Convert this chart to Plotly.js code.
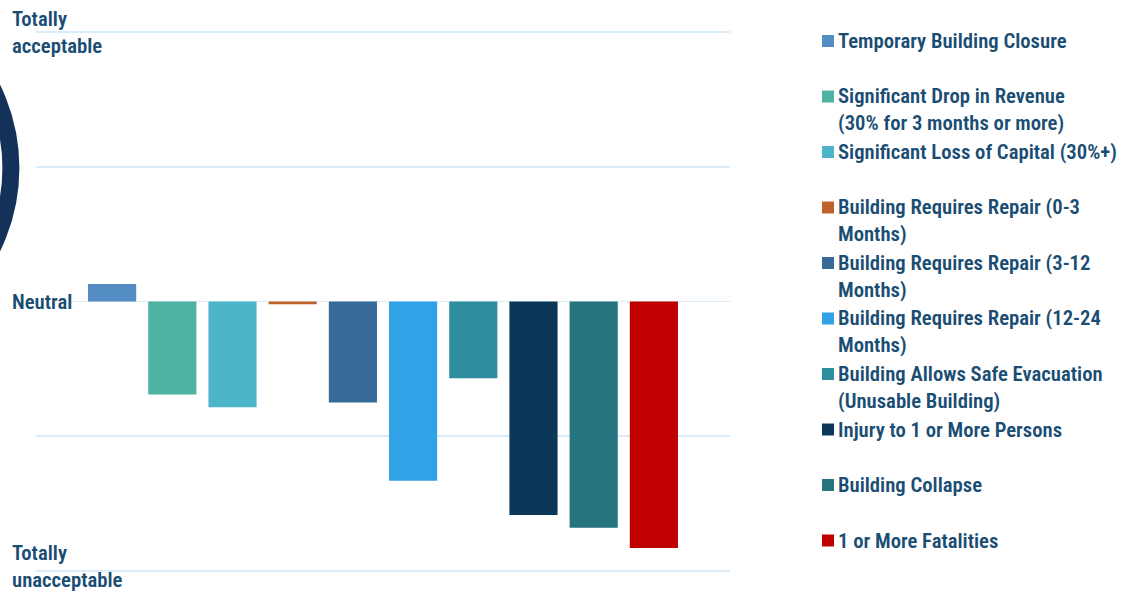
<!DOCTYPE html>
<html>
<head>
<meta charset="utf-8">
<script src="https://cdn.plot.ly/plotly-3.0.1.min.js"></script>
<style>html,body{margin:0;padding:0;background:#fff;}#chart{width:1139px;height:592px;}</style>
</head>
<body>
<div id="chart"></div>
<script>
// ---- data ----
var categories = ["Temporary Building Closure",
  "Significant Drop in Revenue<br>(30% for 3 months or more)",
  "Significant Loss of Capital (30%+)",
  "Building Requires Repair (0-3<br>Months)",
  "Building Requires Repair (3-12<br>Months)",
  "Building Requires Repair (12-24<br>Months)",
  "Building Allows Safe Evacuation<br>(Unusable Building)",
  "Injury to 1 or More Persons",
  "Building Collapse",
  "1 or More Fatalities"];
var values = [0.13, -0.69, -0.785, -0.02, -0.75, -1.33, -0.57, -1.585, -1.68, -1.83];
var colors = ["#548dc4", "#4eb3a2", "#4cb5c9", "#c0622b", "#386a97", "#31a2e8", "#2e8ea0", "#0b3858", "#267480", "#c00000"];
var tickVals = [2, 0, -2];
var tickLabels = ["Totally<br>acceptable", "Neutral", "Totally<br>unacceptable"];

// ---- layout helpers ----
var W = 1139, H = 592;
var L = 36, R = 730, T = 31, B = 572;
var YR = 2.0075;
function px(x) { return (x - L) / (R - L); }
function py(y) { return (B - y) / (B - T); }
var FONT = "'Roboto Condensed', 'Open Sans Condensed', sans-serif";
var TXT = "#1a4d73";
var FS = 20.7, FW = 600;

var traces = categories.map(function (c, i) {
  return {
    type: "bar", x: ["all"], y: [values[i]], name: c,
    marker: { color: colors[i] }, hoverinfo: "y+name"
  };
});

var annotations = [];
var shapes = [];

// y-axis labels
tickVals.forEach(function (v, i) {
  annotations.push({
    xref: "paper", yref: "y", x: px(11), y: v, xanchor: "left", yanchor: "middle",
    text: tickLabels[i], showarrow: false, align: "left",
    bgcolor: v === 0 ? "#ffffff" : "rgba(0,0,0,0)", borderpad: 0,
    yshift: v === -2 ? 4 : 0,
    font: { family: FONT, size: FS, color: TXT, weight: FW }
  });
});

// custom legend
categories.forEach(function (c, i) {
  var yc = 41 + 55.5 * i;
  var nLines = c.split("<br>").length;
  shapes.push({
    type: "rect", xref: "paper", yref: "paper",
    x0: px(822), x1: px(834), y0: py(yc - 6), y1: py(yc + 6),
    fillcolor: colors[i], line: { width: 0 }
  });
  annotations.push({
    xref: "paper", yref: "paper", x: px(837), y: py(yc + 13 * (nLines - 1)),
    xanchor: "left", yanchor: "middle", align: "left", showarrow: false,
    text: c, borderpad: 0,
    font: { family: FONT, size: FS, color: TXT, weight: FW }
  });
});

// decorative ring at left edge
var cx = -169.6, cy = 168, rr = 180.5;
shapes.push({
  type: "circle", xref: "paper", yref: "paper", layer: "below",
  x0: px(cx - rr), x1: px(cx + rr), y0: py(cy + rr), y1: py(cy - rr),
  line: { color: "#12325a", width: 17 }, fillcolor: "rgba(0,0,0,0)"
});

var layout = {
  width: W, height: H,
  margin: { l: L, r: W - R, t: T, b: H - B, pad: 0 },
  paper_bgcolor: "#ffffff", plot_bgcolor: "rgba(0,0,0,0)",
  showlegend: false,
  barmode: "group", bargap: 0.1326, bargroupgap: 0.2,
  xaxis: { showticklabels: false, showgrid: false, zeroline: false, showline: false, ticks: "", fixedrange: true },
  yaxis: {
    range: [-YR, YR], tickvals: [-2, -1, 0, 1, 2], showticklabels: false,
    showgrid: true, gridcolor: "#d9ecf8", gridwidth: 1.5,
    zeroline: true, zerolinecolor: "#d9ecf8", zerolinewidth: 1.5,
    showline: false, ticks: "", fixedrange: true
  },
  font: { family: FONT, color: TXT },
  annotations: annotations,
  shapes: shapes
};

Plotly.newPlot("chart", traces, layout, { displayModeBar: false, staticPlot: true });
</script>
</body>
</html>
